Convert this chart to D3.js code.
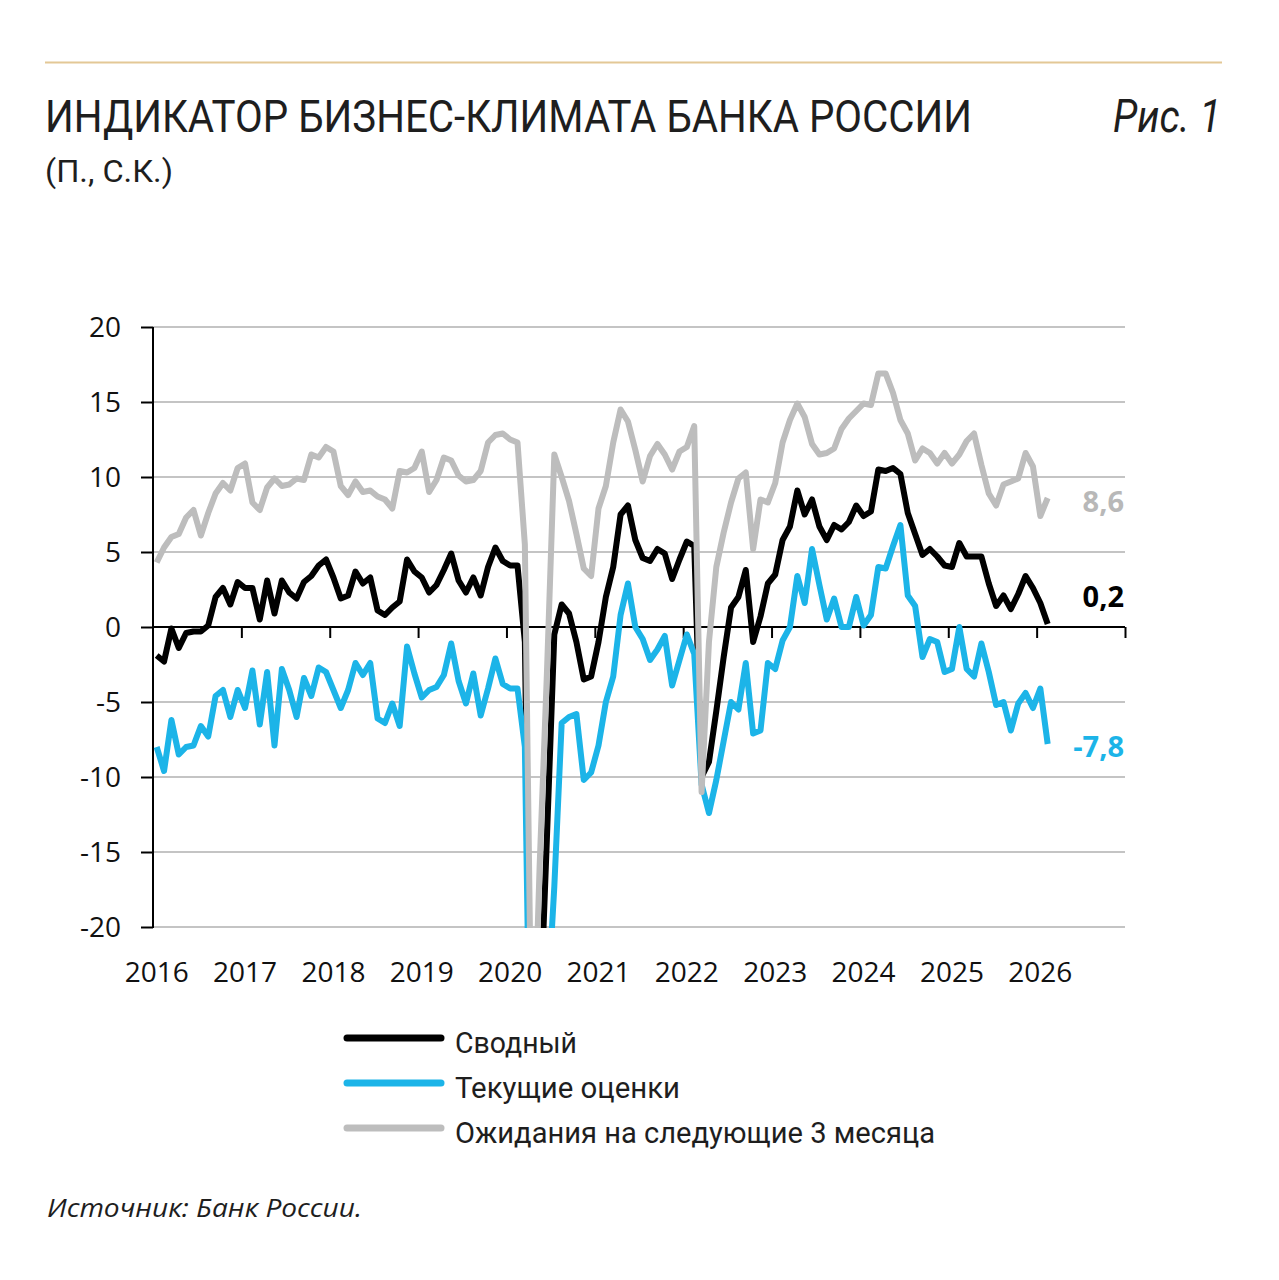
<!DOCTYPE html>
<html>
<head>
<meta charset="utf-8">
<script src="https://cdn.jsdelivr.net/npm/d3@7"></script>
<style>
  html, body { margin: 0; padding: 0; background: #ffffff; }
  svg { display: block; }
</style>
</head>
<body>
<svg id="chart" width="1279" height="1280"></svg>
<script>
// ---------- DATA (monthly, Jan 2016 – Feb 2026) ----------
const yearLabels = ["2016","2017","2018","2019","2020","2021","2022","2023","2024","2025","2026"];
const yTicks = [20, 15, 10, 5, 0, -5, -10, -15, -20];

const svodny = [
  -1.9,-2.3,-0.1,-1.4,-0.4,-0.3,-0.3,0.1,2.0,2.6,1.5,3.0,
  2.6,2.6,0.5,3.1,0.9,3.1,2.3,1.9,3.0,3.4,4.1,4.5,
  3.3,1.9,2.1,3.7,2.9,3.3,1.1,0.8,1.3,1.7,4.5,3.7,
  3.3,2.3,2.8,3.8,4.9,3.1,2.3,3.3,2.1,4.0,5.3,4.4,
  4.1,4.1,-1.0,-36,-27,-14,-0.5,1.5,0.9,-1.0,-3.5,-3.3,
  -1.0,2.0,4.0,7.5,8.1,5.8,4.6,4.4,5.2,4.9,3.2,4.5,
  5.7,5.4,-10.0,-9.0,-5.6,-2.0,1.3,2.0,3.8,-1.0,0.7,2.9,
  3.5,5.8,6.7,9.1,7.5,8.5,6.7,5.8,6.8,6.5,7.0,8.1,
  7.4,7.7,10.5,10.4,10.6,10.2,7.6,6.2,4.8,5.2,4.7,4.1,
  4.0,5.6,4.7,4.7,4.7,2.9,1.4,2.1,1.2,2.2,3.4,2.6,
  1.6,0.2
];
const tekushie = [
  -8.0,-9.6,-6.2,-8.5,-8.0,-7.9,-6.6,-7.3,-4.6,-4.2,-6.0,-4.2,
  -5.4,-2.9,-6.5,-3.0,-7.9,-2.8,-4.2,-6.0,-3.4,-4.6,-2.7,-3.0,
  -4.2,-5.4,-4.2,-2.4,-3.2,-2.4,-6.1,-6.4,-5.1,-6.6,-1.3,-3.1,
  -4.7,-4.2,-4.0,-3.2,-1.1,-3.6,-5.1,-3.1,-5.9,-4.1,-2.1,-3.8,
  -4.1,-4.1,-8.0,-40,-33,-26,-17.3,-6.4,-6.0,-5.8,-10.2,-9.7,
  -7.9,-5.0,-3.3,0.8,2.9,0.0,-0.8,-2.2,-1.5,-0.6,-3.9,-2.2,
  -0.5,-1.8,-10.5,-12.4,-10.2,-7.6,-5.0,-5.5,-2.4,-7.1,-6.9,-2.4,
  -2.8,-0.9,0.0,3.4,1.6,5.2,2.8,0.5,1.9,0.0,0.0,2.0,
  0.1,0.8,4.0,3.9,5.4,6.8,2.1,1.4,-2.0,-0.8,-1.0,-3.0,
  -2.8,0.0,-2.8,-3.3,-1.1,-3.0,-5.2,-5.0,-6.9,-5.1,-4.4,-5.4,
  -4.1,-7.8
];
const ozhidaniya = [
  4.3,5.3,6.0,6.2,7.3,7.8,6.1,7.6,8.9,9.6,9.1,10.6,
  10.9,8.3,7.8,9.3,9.9,9.4,9.5,9.9,9.8,11.5,11.3,12.0,
  11.7,9.4,8.8,9.7,9.0,9.1,8.7,8.5,7.9,10.4,10.3,10.6,
  11.7,9.0,9.8,11.3,11.1,10.1,9.7,9.8,10.4,12.3,12.8,12.9,
  12.5,12.3,5.5,-32,-16,-3,11.5,10.0,8.4,6.2,3.9,3.4,
  7.9,9.4,12.3,14.5,13.7,11.8,9.7,11.4,12.2,11.5,10.5,11.7,
  12.0,13.4,-11.0,-1.0,4.0,6.3,8.3,9.9,10.3,5.2,8.5,8.3,
  9.6,12.3,13.8,14.9,14.0,12.2,11.5,11.6,11.9,13.2,13.9,14.4,
  14.9,14.8,16.9,16.9,15.6,13.8,12.9,11.1,11.9,11.6,10.9,11.6,
  10.9,11.5,12.4,12.9,10.8,8.9,8.1,9.5,9.7,9.9,11.6,10.7,
  7.4,8.6
];

const seriesNames = ["Сводный", "Текущие оценки", "Ожидания на следующие 3 месяца"];
const endLabels = ["0,2", "-7,8", "8,6"];

// ---------- STYLE ----------
const colors = ["#000000", "#1cb4e8", "#bdbdbd"];
const labelColors = ["#000000", "#1cb4e8", "#b8b8b8"];
const gridColor = "#c4c4c4";

const svg = d3.select("#chart");
svg.append("rect").attr("width", 1279).attr("height", 1280).attr("fill", "#ffffff");

// Header
svg.append("line").attr("x1", 45).attr("x2", 1222).attr("y1", 62.5).attr("y2", 62.5)
  .attr("stroke", "#e3c896").attr("stroke-width", 2);

svg.append("text").attr("x", 45).attr("y", 132)
  .attr("font-family", "Roboto, 'Noto Sans', sans-serif").attr("font-size", 45)
  .attr("fill", "#1e1e1e").attr("textLength", 927).attr("lengthAdjust", "spacingAndGlyphs")
  .text("ИНДИКАТОР БИЗНЕС-КЛИМАТА БАНКА РОССИИ");

svg.append("text").attr("x", 45).attr("y", 182)
  .attr("font-family", "Roboto, 'Noto Sans', sans-serif").attr("font-size", 31)
  .attr("fill", "#1e1e1e").attr("textLength", 128).attr("lengthAdjust", "spacingAndGlyphs")
  .text("(П., С.К.)");

svg.append("text").attr("x", 1113).attr("y", 132)
  .attr("font-family", "Roboto, 'Noto Sans', sans-serif").attr("font-size", 46)
  .attr("font-style", "italic")
  .attr("fill", "#1e1e1e").attr("textLength", 108).attr("lengthAdjust", "spacingAndGlyphs")
  .text("Рис. 1");

// ---------- SCALES ----------
const nMonths = yearLabels.length * 12; // axis spans Jan 2016 – Jan 2027
const x = d3.scaleLinear().domain([0, nMonths]).range([153, 1125]);
const y = d3.scaleLinear().domain([-20, 20]).range([927, 327]);

// Gridlines
svg.append("g").selectAll("line")
  .data(yTicks.filter(t => t !== 0))
  .join("line")
  .attr("x1", x(0)).attr("x2", x(nMonths))
  .attr("y1", d => y(d)).attr("y2", d => y(d))
  .attr("stroke", gridColor).attr("stroke-width", 2);

// Y axis
const yAxis = d3.axisLeft(y).tickValues(yTicks).tickSize(12).tickPadding(20)
  .tickFormat(d => String(d));
const gy = svg.append("g").attr("transform", `translate(${x(0)},0)`).call(yAxis);
gy.select(".domain").attr("stroke", "#000").attr("stroke-width", 2)
  .attr("d", `M0,${y(20)}V${y(-20) + 1}`);
gy.selectAll(".tick line").attr("stroke", "#000").attr("stroke-width", 2);
gy.selectAll(".tick text")
  .attr("font-family", "'Open Sans', 'Noto Sans', sans-serif").attr("font-size", 28)
  .attr("fill", "#111").attr("x", -32).attr("dy", "0.35em");

// X axis on zero line
const xTickVals = d3.range(12, nMonths + 1, 12);
const xAxis = d3.axisBottom(x).tickValues(xTickVals).tickSize(11).tickFormat("");
const gx = svg.append("g").attr("transform", `translate(0,${y(0)})`).call(xAxis);
gx.select(".domain").attr("stroke", "#000").attr("stroke-width", 2)
  .attr("d", `M${x(0)},0H${x(nMonths)}`);
gx.selectAll(".tick line").attr("stroke", "#000").attr("stroke-width", 2);

// Year labels (at January points)
svg.append("g").selectAll("text")
  .data(yearLabels)
  .join("text")
  .attr("x", (d, i) => x(i * 12 + 0.5))
  .attr("y", 982)
  .attr("text-anchor", "middle")
  .attr("font-family", "'Open Sans', 'Noto Sans', sans-serif").attr("font-size", 28)
  .attr("fill", "#111")
  .text(d => d);

// ---------- LINES ----------
svg.append("clipPath").attr("id", "plotClip")
  .append("rect").attr("x", x(0)).attr("y", 300).attr("width", x(nMonths) - x(0)).attr("height", y(-20) + 1 - 300);

const line = d3.line().x((d, i) => x(i + 0.5)).y(d => y(d));
const allSeries = [svodny, tekushie, ozhidaniya];

svg.append("g").attr("clip-path", "url(#plotClip)")
  .selectAll("path")
  .data(allSeries)
  .join("path")
  .attr("d", d => line(d))
  .attr("fill", "none")
  .attr("stroke", (d, i) => colors[i])
  .attr("stroke-width", 6)
  .attr("stroke-linejoin", "round");

// End value labels
svg.append("g").selectAll("text")
  .data(allSeries)
  .join("text")
  .attr("x", 1124)
  .attr("y", (d, i) => [607, 757, 512][i])
  .attr("text-anchor", "end")
  .attr("font-family", "'Open Sans', 'Noto Sans', sans-serif").attr("font-size", 29)
  .attr("font-weight", "bold")
  .attr("fill", (d, i) => labelColors[i])
  .text((d, i) => endLabels[i]);

// ---------- LEGEND ----------
const legendY = [1038, 1083, 1128];
const legendW = [122, 225, 480];
const lg = svg.append("g");
seriesNames.forEach((name, i) => {
  lg.append("line").attr("x1", 347).attr("x2", 441)
    .attr("y1", legendY[i]).attr("y2", legendY[i])
    .attr("stroke", colors[i]).attr("stroke-width", 7).attr("stroke-linecap", "round");
  lg.append("text").attr("x", 455).attr("y", legendY[i] + 15)
    .attr("font-family", "Roboto, 'Noto Sans', sans-serif").attr("font-size", 30)
    .attr("fill", "#1e1e1e")
    .attr("textLength", legendW[i]).attr("lengthAdjust", "spacingAndGlyphs")
    .text(name);
});

// Source
svg.append("text").attr("x", 47).attr("y", 1217)
  .attr("font-family", "'Open Sans', 'Noto Sans', sans-serif").attr("font-size", 26)
  .attr("font-style", "italic").attr("fill", "#1e1e1e")
  .attr("textLength", 315).attr("lengthAdjust", "spacingAndGlyphs")
  .text("Источник: Банк России.");
</script>
</body>
</html>
